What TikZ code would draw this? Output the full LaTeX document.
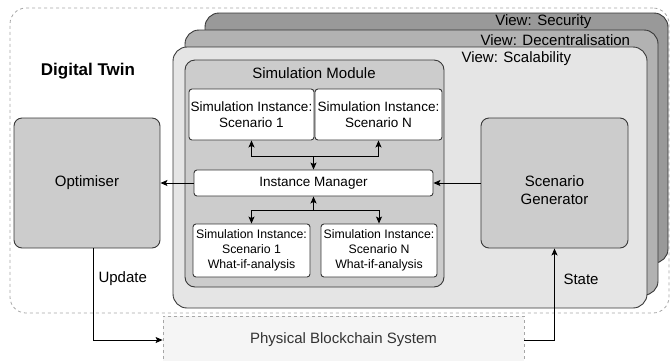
\documentclass[tikz,border=0pt]{standalone}
\usepackage{fontspec}
\setmainfont{Liberation Sans}
\usetikzlibrary{positioning, arrows.meta}
\colorlet{frame color}{black!78}
\colorlet{twin line}{black!35}
\tikzset{view/.style={draw=frame color, line width=0.9pt, rounded corners=14pt, inner sep=0pt}}
\tikzset{block/.style={draw=frame color, line width=0.9pt, fill=black!20, rounded corners=8pt, inner sep=0pt, align=center}}
\tikzset{instance/.style={draw=frame color, line width=0.9pt, fill=white, rounded corners=3pt, inner sep=0pt, align=center}}
\tikzset{flow/.style={line width=0.9pt, -{Stealth[length=7pt, width=6pt, inset=1.5pt]}}}

\begin{document}
\begin{tikzpicture}[x=1pt, y=-1pt, font=\fontsize{15}{18}\selectfont]
    \useasboundingbox (0,0) rectangle (670,360);
    \clip (0,0) rectangle (670,360);
    % outer frame
    \node[draw=twin line, dashed, line width=0.8pt, rounded corners=16pt, minimum width=659pt, minimum height=305pt] (twin) at (339.5,160.5) {};
    \node[font=\fontsize{17}{20}\selectfont\bfseries] (twin label) at (88,71) {Digital Twin};
    % stacked views
    \node[view, fill=black!40, minimum width=463pt, minimum height=250pt] (security) at (436.5,138) {};
    \node[anchor=east] (security label) at (595,22) {View: Security};
    \node[view, fill=black!30, minimum width=473pt, minimum height=265pt] (decentral) at (421.5,162.5) {};
    \node[anchor=west] (decentral label) at (477,40) {View: Decentralisation};
    \node[view, fill=black!10, minimum width=474pt, minimum height=261pt] (scal) at (410,177.5) {};
    \node[anchor=west] (scal label) at (458,59) {View: Scalability};
    % simulation module
    \node[view, fill=black!20, rounded corners=10pt, minimum width=259pt, minimum height=227pt] (module) at (314.5,173.5) {};
    \node (module label) at (314,73) {Simulation Module};
    \begin{scope}[font=\fontsize{13.5}{16}\selectfont]
        \node[instance, minimum width=125pt, minimum height=51pt] (inst one) at (251.5,114.5) {Simulation Instance:\\Scenario 1};
        \node[instance, minimum width=127pt, minimum height=51pt] (inst n) at (378.5,114.5) {Simulation Instance:\\Scenario N};
        \node[instance, minimum width=239pt, minimum height=26pt] (manager) at (313.5,183) {Instance Manager};
    \end{scope}
    \begin{scope}[font=\fontsize{12.3}{15}\selectfont]
        \node[instance, minimum width=117pt, minimum height=53pt] (whatif one) at (251.5,250.5) {Simulation Instance:\\Scenario 1\\What-if-analysis};
        \node[instance, minimum width=116pt, minimum height=53pt] (whatif n) at (379,250.5) {Simulation Instance:\\Scenario N\\What-if-analysis};
    \end{scope}
    \coordinate (top split) at (313.5,156);
    \coordinate (low split) at (313.5,210);
    \draw[flow] (top split) -- (manager.north);
    \draw[flow] (top split) -| (inst one.south);
    \draw[flow] (top split) -| (inst n.south);
    \draw[flow] (low split) -- (manager.south);
    \draw[flow] (low split) -| (whatif one.north);
    \draw[flow] (low split) -| (whatif n.north);
    % optimiser and generator
    \node[block, minimum width=146pt, minimum height=130pt] (optimiser) at (87,183) {Optimiser};
    \node[block, minimum width=147pt, minimum height=130pt] (generator) at (554.5,183) {};
    \node[align=center] (generator text) at (554.5,190) {Scenario\\Generator};
    \draw[flow] (manager) -- (optimiser);
    \draw[flow] (generator) -- (manager);
    % physical system
    \node[draw=twin line, dashed, line width=0.8pt, fill=black!4, text=black!80, minimum width=361pt, minimum height=48pt] (physical) at (343.5,340) {Physical Blockchain System};
    \draw[flow] ([xshift=6pt]optimiser.south) |- (physical.west);
    \node[anchor=west] (update) at (95,279) {Update};
    \draw[flow] (physical.east) -| (generator.south);
    \node[anchor=west] (state) at (560,279) {State};
\end{tikzpicture}
\end{document}
